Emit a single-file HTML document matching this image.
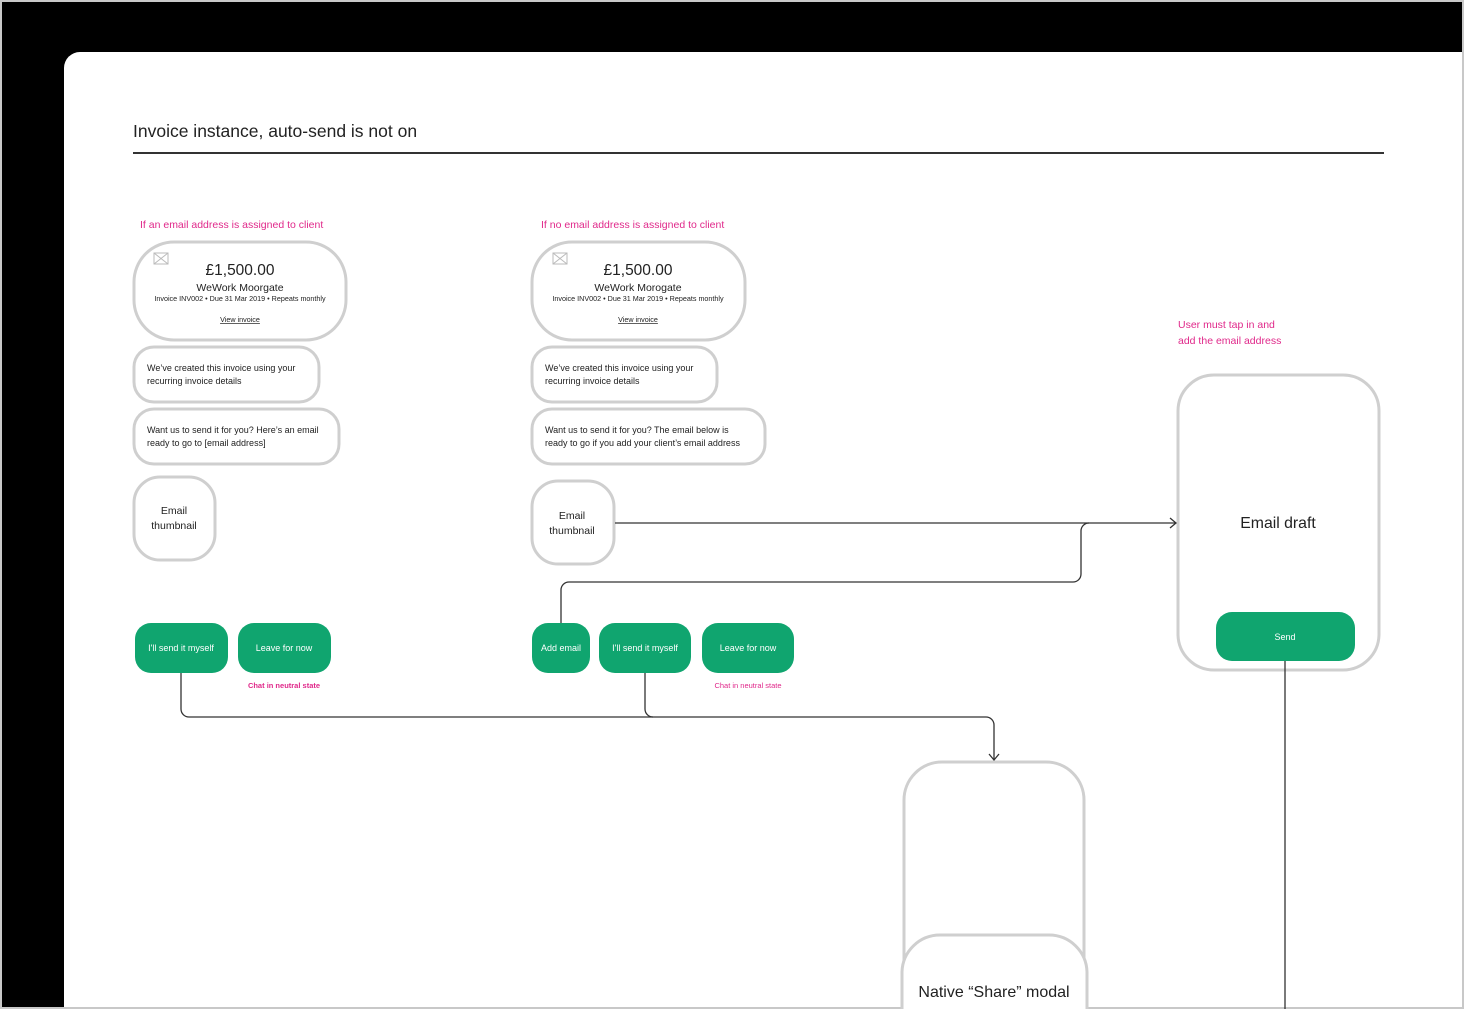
<!DOCTYPE html>
<html><head><meta charset="utf-8"><style>
html,body{margin:0;padding:0;background:#000;}
body{width:1464px;height:1009px;overflow:hidden;}
svg{display:block;font-family:"Liberation Sans",sans-serif;}
</style></head><body>
<svg width="1464" height="1009" viewBox="0 0 1464 1009" xmlns="http://www.w3.org/2000/svg">
<rect x="0" y="0" width="1464" height="1009" fill="#000"/>
<path d="M80 52 H1464 V1009 H64 V68 A16 16 0 0 1 80 52 Z" fill="#fff"/>
<rect x="0" y="0" width="1464" height="2" fill="#c8c8c8"/>
<rect x="0" y="0" width="2" height="1009" fill="#c8c8c8"/>
<rect x="1462" y="0" width="2" height="1009" fill="#c8c8c8"/>
<rect x="0" y="1007" width="1464" height="2" fill="#c8c8c8"/>

<text x="133" y="137" font-size="17.5" fill="#222">Invoice instance, auto-send is not on</text>
<rect x="133" y="152" width="1251" height="2" fill="#333"/>

<g font-size="10.5" fill="#e0288a">
<text x="140" y="228">If an email address is assigned to client</text>
<text x="541" y="228">If no email address is assigned to client</text>
<text x="1178" y="328">User must tap in and</text>
<text x="1178" y="344">add the email address</text>
</g>

<g fill="#fff" stroke="#cfcfcf" stroke-width="3">
<rect x="134" y="242" width="212" height="98" rx="40"/>
<rect x="134" y="347" width="185" height="55" rx="20"/>
<rect x="134" y="409" width="205" height="55" rx="20"/>
<rect x="134" y="477" width="81" height="83" rx="26"/>
<rect x="532" y="242" width="213" height="98" rx="40"/>
<rect x="532" y="347" width="185" height="55" rx="20"/>
<rect x="532" y="409" width="233" height="55" rx="20"/>
<rect x="532" y="481" width="82" height="83" rx="26"/>
<rect x="1178" y="375" width="201" height="295" rx="36"/>
<path d="M904 1009 V800 A38 38 0 0 1 942 762 H1046 A38 38 0 0 1 1084 800 V1009"/>
<path d="M902 1009 V972 A38 38 0 0 1 940 935 H1049 A38 38 0 0 1 1087 972 V1009"/>
</g>

<g stroke="#bbb" stroke-width="1" fill="none">
<rect x="154" y="253" width="14" height="11"/><path d="M154 253 L168 264 M168 253 L154 264"/>
<rect x="553" y="253" width="14" height="11"/><path d="M553 253 L567 264 M567 253 L553 264"/>
</g>

<g fill="#222" text-anchor="middle">
<text x="240" y="275" font-size="15.5">£1,500.00</text>
<text x="240" y="291" font-size="10.5">WeWork Moorgate</text>
<text x="240" y="301" font-size="7.2">Invoice INV002 • Due 31 Mar 2019 • Repeats monthly</text>
<text x="240" y="322" font-size="7.2" text-decoration="underline">View invoice</text>
<text x="638" y="275" font-size="15.5">£1,500.00</text>
<text x="638" y="291" font-size="10.5">WeWork Morogate</text>
<text x="638" y="301" font-size="7.2">Invoice INV002 • Due 31 Mar 2019 • Repeats monthly</text>
<text x="638" y="322" font-size="7.2" text-decoration="underline">View invoice</text>
<text x="174" y="514" font-size="10.5">Email</text>
<text x="174" y="529" font-size="10.5">thumbnail</text>
<text x="572" y="519" font-size="10.5">Email</text>
<text x="572" y="534" font-size="10.5">thumbnail</text>
<text x="1278" y="528" font-size="15.8">Email draft</text>
<text x="994" y="997" font-size="16">Native “Share” modal</text>
</g>
<g fill="#222" font-size="9">
<text x="147" y="371">We’ve created this invoice using your</text>
<text x="147" y="384">recurring invoice details</text>
<text x="147" y="433">Want us to send it for you? Here’s an email</text>
<text x="147" y="446">ready to go to [email address]</text>
<text x="545" y="371">We’ve created this invoice using your</text>
<text x="545" y="384">recurring invoice details</text>
<text x="545" y="433">Want us to send it for you? The email below is</text>
<text x="545" y="446">ready to go if you add your client’s email address</text>
</g>

<g fill="#10a56f">
<rect x="135" y="623" width="93" height="50" rx="16"/>
<rect x="238" y="623" width="93" height="50" rx="16"/>
<rect x="532" y="623" width="58" height="50" rx="16"/>
<rect x="599" y="623" width="92" height="50" rx="16"/>
<rect x="702" y="623" width="92" height="50" rx="16"/>
<rect x="1216" y="612" width="139" height="49" rx="16"/>
</g>
<g fill="#fff" font-size="9" text-anchor="middle">
<text x="181" y="651">I'll send it myself</text>
<text x="284" y="651">Leave for now</text>
<text x="561" y="651">Add email</text>
<text x="645" y="651">I'll send it myself</text>
<text x="748" y="651">Leave for now</text>
<text x="1285" y="640">Send</text>
</g>
<g fill="#e0288a" font-size="7.5" font-weight="bold" text-anchor="middle">
<text x="284" y="688">Chat in neutral state</text>
</g>
<g fill="#e0288a" font-size="7.5" text-anchor="middle">
<text x="748" y="688">Chat in neutral state</text>
</g>

<g stroke="#333" stroke-width="1.3" fill="none">
<path d="M615 523 H1176"/>
<path d="M1170 518 L1176 523 L1170 528"/>
<path d="M561 623 V590 A8 8 0 0 1 569 582 H1073 A8 8 0 0 0 1081 574 V531 A8 8 0 0 1 1089 523"/>
<path d="M181 673 V709 A8 8 0 0 0 189 717 H986 A8 8 0 0 1 994 725 V760"/>
<path d="M989 754 L994 760 L999 754"/>
<path d="M645 673 V709 A8 8 0 0 0 653 717"/>
<path d="M1285 661 V1009"/>
</g>
</svg>
</body></html>
